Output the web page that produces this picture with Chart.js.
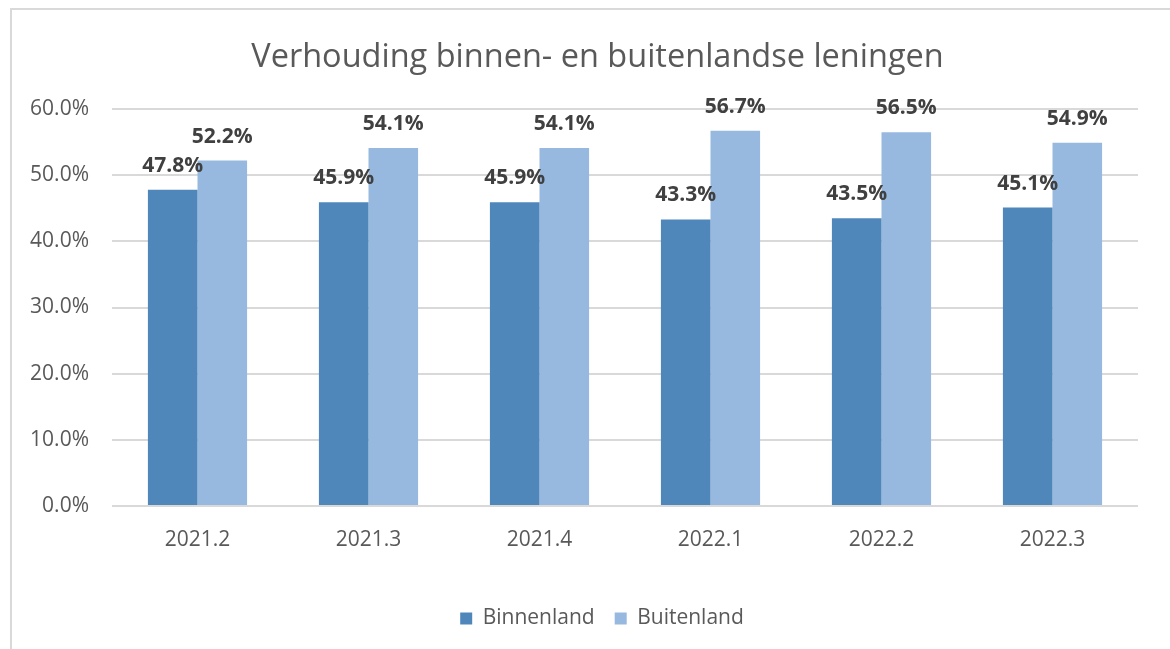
<!DOCTYPE html>
<html>
<head>
<meta charset="utf-8">
<script src="https://cdn.jsdelivr.net/npm/chart.js@4"></script>
<style>
  html, body { margin: 0; padding: 0; background: #fff; }
  #frame {
    position: absolute; left: 10px; top: 8px; width: 1200px; height: 700px;
    border-left: 2px solid #d9d9d9; border-top: 2px solid #d9d9d9;
  }
  #chart { position: absolute; left: 0; top: 0; }
</style>
</head>
<body>
<div id="frame"></div>
<canvas id="chart" width="1170" height="649"></canvas>
<script>
const categories = ['2021.2', '2021.3', '2021.4', '2022.1', '2022.2', '2022.3'];
const binnenland = [47.8, 45.9, 45.9, 43.3, 43.5, 45.1];
const buitenland = [52.2, 54.1, 54.1, 56.7, 56.5, 54.9];
const yTicks = [0, 10, 20, 30, 40, 50, 60];

const FONT = "'Open Sans', sans-serif";
const grey = '#595959';

// value labels above every bar
const barLabels = {
  id: 'barLabels',
  afterDatasetsDraw(chart) {
    const ctx = chart.ctx;
    ctx.save();
    ctx.font = 'bold 21px ' + FONT;
    ctx.fillStyle = '#404040';
    ctx.textAlign = 'center';
    ctx.textBaseline = 'alphabetic';
    chart.data.datasets.forEach((ds, i) => {
      chart.getDatasetMeta(i).data.forEach((bar, j) => {
        ctx.fillText(ds.data[j].toFixed(1) + '%', bar.x, bar.y - 18);
      });
    });
    ctx.restore();
  }
};

// title and legend sit a bit right of the canvas centre in the original
const shiftBlocks = {
  id: 'shiftBlocks',
  afterLayout(chart) {
    chart.titleBlock.left = 57;
    chart.legend.left = 66;
  }
};

new Chart(document.getElementById('chart'), {
  type: 'bar',
  data: {
    labels: categories,
    datasets: [
      { label: 'Binnenland', data: binnenland, backgroundColor: '#4f87bb' },
      { label: 'Buitenland', data: buitenland, backgroundColor: '#97b9e0' }
    ]
  },
  options: {
    responsive: false,
    devicePixelRatio: 1,
    animation: false,
    categoryPercentage: 0.58,
    barPercentage: 1,
    layout: { padding: { left: 10, right: 32, top: 10, bottom: 10 } },
    plugins: {
      title: {
        display: true,
        text: 'Verhouding binnen- en buitenlandse leningen',
        color: grey,
        font: { family: FONT, size: 32.5, weight: 'normal', lineHeight: 1.2 },
        padding: { top: 28, bottom: 32 }
      },
      legend: {
        position: 'bottom',
        labels: {
          color: grey,
          font: { family: FONT, size: 21 },
          boxWidth: 12,
          boxHeight: 12,
          padding: 20
        }
      },
      tooltip: { enabled: false }
    },
    scales: {
      x: {
        grid: { display: false },
        border: { display: false },
        ticks: { color: grey, font: { family: FONT, size: 21 }, padding: 13 },
        afterFit: s => { s.height = 82; }
      },
      y: {
        min: 0,
        max: 60,
        afterBuildTicks: s => { s.ticks = yTicks.map(v => ({ value: v })); },
        grid: { color: '#d9d9d9', lineWidth: 2, drawTicks: false },
        border: { display: false },
        ticks: {
          color: grey,
          font: { family: FONT, size: 21 },
          padding: 23,
          callback: v => v.toFixed(1) + '%'
        },
        afterFit: s => { s.width = 102; }
      }
    }
  },
  plugins: [barLabels, shiftBlocks]
});
</script>
</body>
</html>
